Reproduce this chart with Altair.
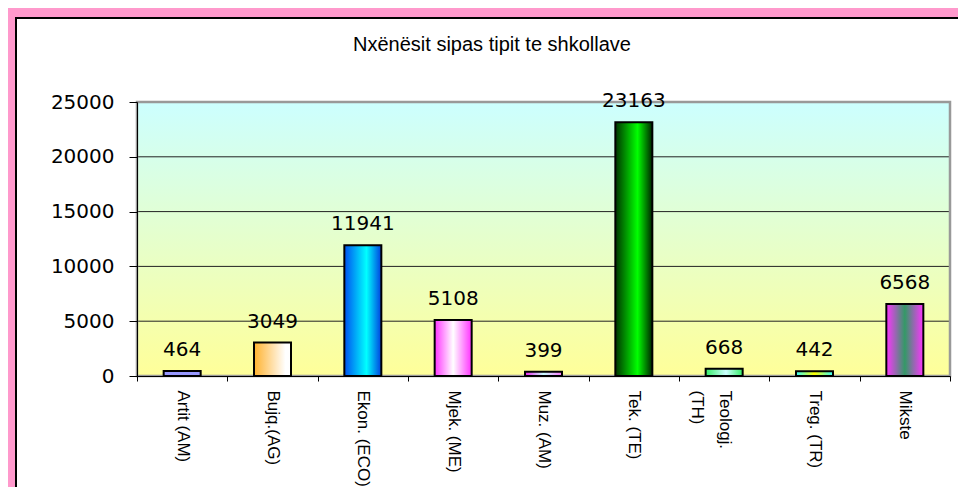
import altair as alt
import pandas as pd

# ---- data ----
categories = ["Artit (AM)", "Bujq.(AG)", "Ekon. (ECO)", "Mjek. (ME)", "Muz. (AM)",
              "Tek. (TE)", "Teologj.|\u00a0\u00a0\u00a0(TH)", "Treg. (TR)", "Mikste"]
students = [464, 3049, 11941, 5108, 399, 23163, 668, 442, 6568]
y_ticks = [0, 5000, 10000, 15000, 20000, 25000]
grid_values = [5000, 10000, 15000, 20000]
title_text = "Nxënësit sipas tipit te shkollave"

# ---- styles ----
W, H = 813, 274
bar_stops = [
    [("#9999FF", 0), ("#9999FF", 1)],
    [("#FFB22E", 0), ("#FFFFFF", 0.85), ("#FFFFFF", 1)],
    [("#0050F0", 0), ("#00FFFF", 0.6), ("#0040E0", 1)],
    [("#FF33FF", 0), ("#FFFFFF", 0.5), ("#FF33FF", 1)],
    [("#EE22EE", 0), ("#C8FFFF", 0.5), ("#FF77FF", 1)],
    [("#003300", 0), ("#00FF00", 0.6), ("#002200", 1)],
    [("#33EE66", 0), ("#CCFFFF", 0.55), ("#33EE66", 1)],
    [("#33FFFF", 0), ("#FFFF00", 0.5), ("#33FFFF", 1)],
    [("#FF33FF", 0), ("#339966", 0.5), ("#FF33FF", 1)],
]

def hgrad(stops):
    return alt.Gradient(gradient="linear",
                        stops=[alt.GradientStop(color=c, offset=o) for c, o in stops],
                        x1=0, x2=1, y1=0, y2=0)

df = pd.DataFrame({"school": categories, "students": students})
one = pd.DataFrame({"t": [title_text]})
grid_df = pd.DataFrame({"v": grid_values})

x_scale = alt.Scale(domain=categories, paddingInner=0, paddingOuter=0)
y_scale = alt.Scale(domain=[0, 25000], nice=False)

x_axis = alt.Axis(title=None, labelAngle=90, labelFont="Liberation Sans", labelFontSize=17,
                  labelColor="black", labelExpr="split(datum.label, '|')", labelLineHeight=28,
                  tickBand="extent", tickSize=5, tickColor="black", labelPadding=9,
                  domainColor="black", grid=False, zindex=1, labelOverlap=False)
y_axis = alt.Axis(title=None, values=y_ticks, format="d", labelFont="DejaVu Sans",
                  labelFontSize=20, labelColor="black", tickSize=8, tickColor="black",
                  labelPadding=15, domainColor="black", grid=False, zindex=1)

x_enc = alt.X("school:N", scale=x_scale, axis=x_axis)
y_enc = alt.Y("students:Q", scale=y_scale, axis=y_axis)

white_frame = alt.Chart(one).mark_rect(fill="white", stroke="black", strokeWidth=2).encode(
    x=alt.value(-121), x2=alt.value(W + 100), y=alt.value(-84), y2=alt.value(H + 200))

plot_bg = alt.Chart(one).mark_rect(
    fill=alt.Gradient(gradient="linear",
                      stops=[alt.GradientStop(color="#CCFFFF", offset=0),
                             alt.GradientStop(color="#FFFF99", offset=1)],
                      x1=0, x2=0, y1=0, y2=1)).encode(
    x=alt.value(0), x2=alt.value(W), y=alt.value(0), y2=alt.value(H))

grid = alt.Chart(grid_df).mark_rule(color="#222222", strokeWidth=1).encode(
    y=alt.Y("v:Q", scale=y_scale, axis=y_axis), x=alt.value(0), x2=alt.value(W))

border = alt.Chart(one).mark_rect(fillOpacity=0, stroke="#999999", strokeWidth=2.5).encode(
    x=alt.value(0), x2=alt.value(W), y=alt.value(0), y2=alt.value(H))

bars = []
for cat, stops in zip(categories, bar_stops):
    bars.append(
        alt.Chart(df).transform_filter(alt.datum.school == cat)
        .mark_bar(width=37, fill=hgrad(stops), stroke="black", strokeWidth=2)
        .encode(x=x_enc, y=y_enc)
    )

labels = alt.Chart(df).mark_text(dy=-21, font="DejaVu Sans", fontSize=20, color="black").encode(
    x=x_enc, y=y_enc, text=alt.Text("students:Q", format="d"))

title = alt.Chart(one).mark_text(font="Liberation Sans", fontSize=20, color="black").encode(
    text="t:N", x=alt.value(355), y=alt.value(-57))

chart = alt.layer(white_frame, plot_bg, grid, border, *bars, labels, title).properties(
    width=W, height=H,
    autosize=alt.AutoSizeParams(type="none"),
    padding={"left": 129, "top": 94, "right": 8, "bottom": 111},
    background="#FF99CC",
).configure_view(strokeWidth=0)

chart.save("out.html", embed_options={"renderer": "svg", "actions": False})
